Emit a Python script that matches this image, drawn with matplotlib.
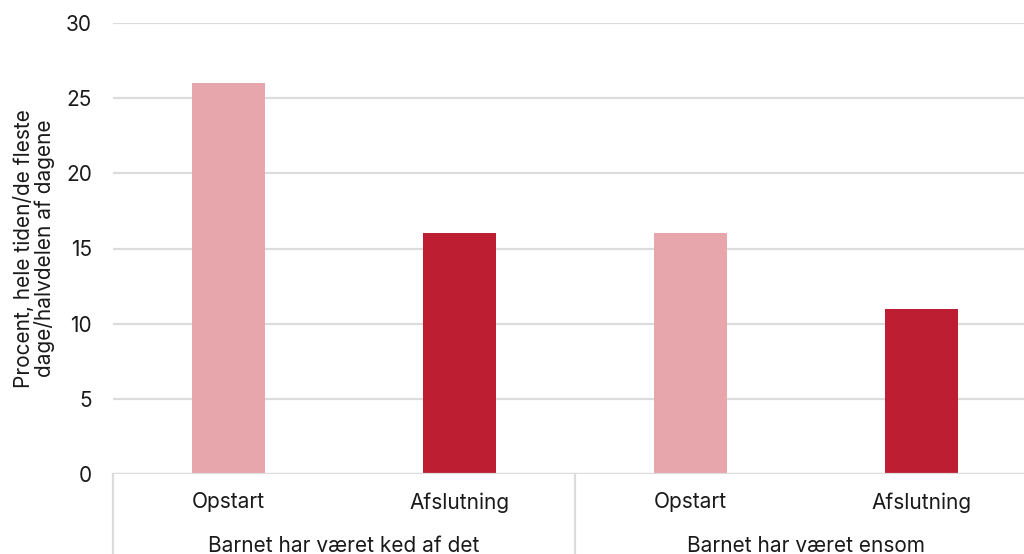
import matplotlib
matplotlib.use("Agg")
import matplotlib.pyplot as plt
from matplotlib.lines import Line2D

plt.rcParams['font.family'] = ['Inter', 'DejaVu Sans']

groups = ["Barnet har været ked af det", "Barnet har været ensom"]
phases = ["Opstart", "Afslutning"]
values = [26, 16, 16, 11]
colors = ["#E7A6AC", "#BE1E32"]
ylabel = "Procent, hele tiden/de fleste\ndage/halvdelen af dagene"

fig = plt.figure(figsize=(10.24, 5.54), dpi=100)
W, H = 1024, 554
left, right = 113, 1037
top, bottom = 23, 474
ax = fig.add_axes([left / W, 1 - bottom / H, (right - left) / W, (bottom - top) / H])

n = len(values)
x = list(range(n))
bar_colors = [colors[i % len(phases)] for i in range(n)]
ax.bar(x, values, width=0.316, color=bar_colors, zorder=3)

fs = 15
ax.set_xlim(-0.5, n - 0.5)
ax.set_ylim(0, 30)
ax.set_yticks(range(0, 31, 5))
ax.tick_params(axis='y', length=0, labelsize=fs, pad=15, colors='#1a1a1a')
ax.set_xticks(x)
ax.set_xticklabels([phases[i % len(phases)] for i in range(n)], fontsize=fs, color='#1a1a1a')
ax.tick_params(axis='x', length=0, pad=13)
ax.grid(axis='y', color='#dcdcdc', linewidth=1.6, zorder=0)
for s in ax.spines.values():
    s.set_visible(False)
ax.axhline(0, color='#dcdcdc', linewidth=1.6, zorder=4)

ax.set_ylabel(ylabel, fontsize=fs, color='#1a1a1a', labelpad=8, linespacing=1.0)

# Group labels and separators below the axis
per = len(phases)
for g, name in enumerate(groups):
    cx = g * per + (per - 1) / 2
    ax.annotate(name, xy=(cx, 0), xycoords=('data', 'axes fraction'),
                xytext=(0, -56.5), textcoords='offset points', ha='center', va='baseline',
                fontsize=fs, color='#1a1a1a', annotation_clip=False)
for b in range(len(groups) + 1):
    xb = b * per - 0.5
    ax.add_line(Line2D([xb, xb], [0, -0.2], transform=ax.get_xaxis_transform(),
                       color='#dcdcdc', linewidth=1.6, clip_on=False))

fig.savefig("out.png", dpi=100)
